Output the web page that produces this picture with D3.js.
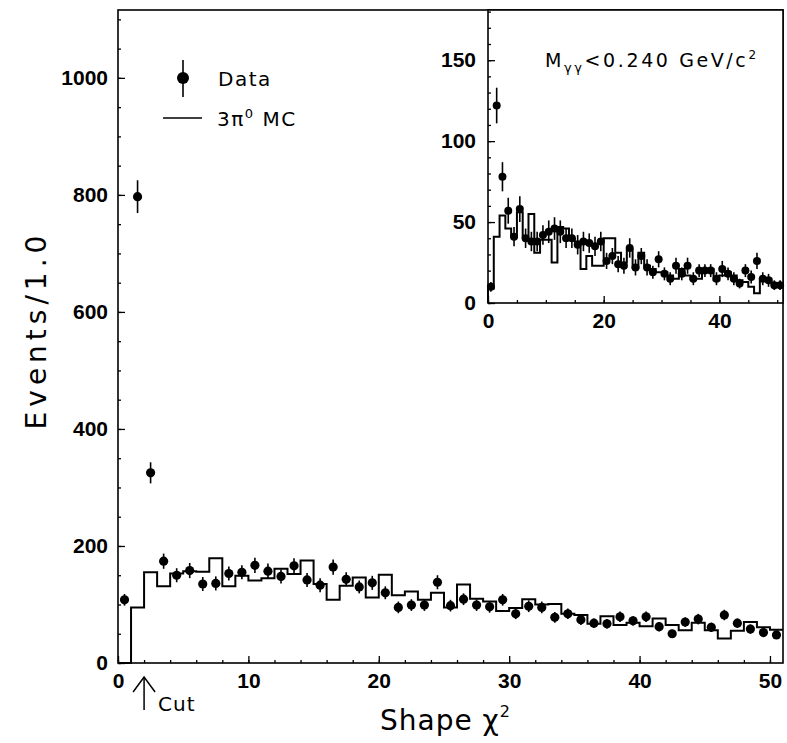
<!DOCTYPE html>
<html>
<head>
<meta charset="utf-8">
<script src="https://cdn.jsdelivr.net/npm/d3@7"></script>
<style>
  body { margin: 0; background: #fff; }
  svg { display: block; }
  .axis text { font-family: "Liberation Sans", Arial, sans-serif; font-weight: bold; font-size: 21px; fill: #000; }
  .axis line { stroke: #000; stroke-width: 1.3; }
  .label { font-family: "DejaVu Sans", sans-serif; fill: #000; }
</style>
</head>
<body>
<svg id="chart" width="787" height="743"></svg>
<script>
// main plot: data points (bin centres 0.5 .. 50.5), errors, 3pi0 MC histogram (bins 0..50)
const mainData = [108, 797, 325, 174, 150, 158, 135, 136, 153, 155, 167, 157, 148, 166, 142, 133, 164,
  143, 130, 137, 120, 95, 99, 99, 138, 98, 109, 99, 96, 108, 84, 97, 95, 78, 84, 74, 68, 67, 79, 72,
  79, 62, 50, 70, 75, 61, 82, 68, 58, 52, 48];
const mainErr = [10, 28, 18, 13, 12, 13, 12, 12, 12, 12, 13, 13, 12, 13, 12, 12, 13, 12, 11, 12, 11,
  10, 10, 10, 12, 10, 10, 10, 10, 10, 9, 10, 10, 9, 9, 9, 8, 8, 9, 8, 9, 8, 7, 8, 9, 8, 9, 8, 8, 7, 7];
const mainMC = [0, 95, 155, 131, 153, 157, 156, 179, 131, 149, 141, 145, 161, 152, 175, 135, 108, 132,
  146, 112, 151, 116, 122, 108, 120, 95, 134, 110, 105, 89, 94, 109, 100, 101, 84, 82, 67, 80, 65, 69,
  63, 76, 65, 56, 69, 56, 42, 55, 70, 61, 57];

// inset: M_gg < 0.240 GeV/c2
const insetData = [10, 122, 78, 57, 41, 58, 40, 38, 38, 42, 44, 46, 44, 40, 40, 36, 38, 37, 35, 38, 26,
  29, 24, 23, 34, 22, 29, 22, 19, 27, 18, 15, 23, 18, 23, 15, 20, 20, 20, 15, 21, 18, 15, 12, 20, 16,
  26, 15, 14, 11, 11];
const insetErr = [3, 11, 9, 8, 6, 8, 6, 6, 6, 6, 7, 7, 7, 6, 6, 6, 6, 6, 6, 6, 5, 5, 5, 5, 6, 5, 5, 5,
  4, 5, 4, 4, 5, 4, 5, 4, 4, 4, 4, 4, 5, 4, 4, 3, 4, 4, 5, 4, 4, 3, 3];
const insetMC = [9, 41, 54, 46, 41, 56, 41, 55, 31, 39, 39, 25, 47, 46, 40, 38, 21, 29, 23, 23, 40, 40,
  31, 25, 33, 22, 31, 23, 21, 19, 19, 17, 15, 21, 17, 15, 15, 21, 21, 14, 17, 19, 17, 14, 13, 10, 6,
  15, 15, 12, 10];

const mainXTicks = [0, 10, 20, 30, 40, 50];
const mainYTicks = [0, 200, 400, 600, 800, 1000];
const insetXTicks = [0, 20, 40];
const insetYTicks = [0, 50, 100, 150];
const cutValue = 2;

const svg = d3.select('#chart');

const frame = {left: 118, top: 10, right: 783, bottom: 663};
const inset = {left: 488, top: 10, right: 783, bottom: 303};

const x = d3.scaleLinear().domain([0, 51]).range([frame.left, frame.right]);
const y = d3.scaleLinear().domain([0, 1116]).range([frame.bottom, frame.top]);
const xi = d3.scaleLinear().domain([0, 51]).range([inset.left, inset.right]);
const yi = d3.scaleLinear().domain([0, 181]).range([inset.bottom, inset.top]);

function drawAxes(g, xs, ys, box, xMajor, xMinorStep, yMajor, yMinorStep, yPad) {
  const xMinor = d3.range(0, xs.domain()[1] + 0.001, xMinorStep);
  const yMinor = d3.range(0, ys.domain()[1], yMinorStep);
  // minor ticks
  g.append('g').attr('class', 'axis')
    .attr('transform', `translate(0, ${box.bottom})`)
    .call(d3.axisBottom(xs).tickValues(xMinor).tickSize(-3).tickFormat(''))
    .call(s => s.select('.domain').remove());
  g.append('g').attr('class', 'axis')
    .attr('transform', `translate(${box.left}, 0)`)
    .call(d3.axisLeft(ys).tickValues(yMinor).tickSize(-3).tickFormat(''))
    .call(s => s.select('.domain').remove());
  // major ticks + labels
  g.append('g').attr('class', 'axis')
    .attr('transform', `translate(0, ${box.bottom})`)
    .call(d3.axisBottom(xs).tickValues(xMajor).tickSize(-7).tickPadding(10).tickFormat(d3.format('d')))
    .call(s => s.select('.domain').remove());
  g.append('g').attr('class', 'axis')
    .attr('transform', `translate(${box.left}, 0)`)
    .call(d3.axisLeft(ys).tickValues(yMajor).tickSize(-7).tickPadding(yPad).tickFormat(d3.format('d')))
    .call(s => s.select('.domain').remove());
}

function drawHist(g, xs, ys, mc, data, err, r) {
  const steps = [[0, 0]].concat(mc.map((v, i) => [i, v]), [[mc.length, mc[mc.length - 1]]]);
  g.append('path')
    .attr('d', d3.line().x(d => xs(d[0])).y(d => ys(d[1])).curve(d3.curveStepAfter)(steps))
    .attr('fill', 'none')
    .attr('stroke', '#000')
    .attr('stroke-width', 2);

  const pts = g.append('g');
  pts.selectAll('line')
    .data(data)
    .enter().append('line')
      .attr('x1', (d, i) => xs(i + 0.5))
      .attr('x2', (d, i) => xs(i + 0.5))
      .attr('y1', (d, i) => ys(d + err[i]))
      .attr('y2', (d, i) => ys(d - err[i]))
      .attr('stroke', '#000')
      .attr('stroke-width', 1.6);
  pts.selectAll('circle')
    .data(data)
    .enter().append('circle')
      .attr('cx', (d, i) => xs(i + 0.5))
      .attr('cy', d => ys(d))
      .attr('r', r)
      .attr('fill', '#000');
}

// main plot
const main = svg.append('g');
drawHist(main, x, y, mainMC, mainData, mainErr, 4.6);
drawAxes(main, x, y, frame, mainXTicks, 2, mainYTicks, 50, 10);
main.append('rect')
  .attr('x', frame.left).attr('y', frame.top)
  .attr('width', frame.right - frame.left).attr('height', frame.bottom - frame.top)
  .attr('fill', 'none').attr('stroke', '#000').attr('stroke-width', 1.6);

// inset
const ins = svg.append('g');
ins.append('rect')
  .attr('x', inset.left).attr('y', inset.top)
  .attr('width', inset.right - inset.left).attr('height', inset.bottom - inset.top)
  .attr('fill', '#fff');
drawHist(ins, xi, yi, insetMC, insetData, insetErr, 4);
drawAxes(ins, xi, yi, inset, insetXTicks, 5, insetYTicks, 10, 12);
ins.append('rect')
  .attr('x', inset.left).attr('y', inset.top)
  .attr('width', inset.right - inset.left).attr('height', inset.bottom - inset.top)
  .attr('fill', 'none').attr('stroke', '#000').attr('stroke-width', 1.6);

const ilabel = ins.append('text').attr('class', 'label')
  .attr('x', 545).attr('y', 67)
  .attr('font-size', 19).attr('letter-spacing', 2.6);
ilabel.append('tspan').text('M');
ilabel.append('tspan').attr('font-size', 13).attr('dy', 5).text('γγ');
ilabel.append('tspan').attr('dy', -5).text('<0.240 GeV/c');
ilabel.append('tspan').attr('font-size', 12).attr('dy', -8).text('2');

// legend
const legend = svg.append('g');
legend.append('line')
  .attr('x1', 183).attr('x2', 183).attr('y1', 60).attr('y2', 97)
  .attr('stroke', '#000').attr('stroke-width', 1.6);
legend.append('circle').attr('cx', 183).attr('cy', 78).attr('r', 6).attr('fill', '#000');
legend.append('text').attr('class', 'label')
  .attr('x', 218).attr('y', 86).attr('font-size', 20).attr('letter-spacing', 1.5)
  .text('Data');
legend.append('line')
  .attr('x1', 163).attr('x2', 202).attr('y1', 118).attr('y2', 118)
  .attr('stroke', '#000').attr('stroke-width', 1.6);
const mcLabel = legend.append('text').attr('class', 'label')
  .attr('x', 217).attr('y', 126).attr('font-size', 20).attr('letter-spacing', 1.5);
mcLabel.append('tspan').text('3π');
mcLabel.append('tspan').attr('font-size', 13).attr('dy', -8).text('0');
mcLabel.append('tspan').attr('dy', 8).text(' MC');

// cut arrow
const cx = x(cutValue);
svg.append('line')
  .attr('x1', cx).attr('x2', cx).attr('y1', 710).attr('y2', 677)
  .attr('stroke', '#000').attr('stroke-width', 1.5);
svg.append('polyline')
  .attr('points', `${cx - 11},692 ${cx},677 ${cx + 11},692`)
  .attr('fill', 'none').attr('stroke', '#000').attr('stroke-width', 1.5);
svg.append('text').attr('class', 'label')
  .attr('x', cx + 14).attr('y', 711).attr('font-size', 20).attr('letter-spacing', 1)
  .text('Cut');

// axis titles
const xTitle = svg.append('text').attr('class', 'label')
  .attr('x', 380).attr('y', 730).attr('font-size', 28).attr('letter-spacing', 1);
xTitle.append('tspan').text('Shape χ');
xTitle.append('tspan').attr('font-size', 16).attr('dy', -13).text('2');

svg.append('text').attr('class', 'label')
  .attr('transform', 'translate(46, 330) rotate(-90)')
  .attr('text-anchor', 'middle')
  .attr('font-size', 28).attr('letter-spacing', 5)
  .text('Events/1.0');
</script>
</body>
</html>
